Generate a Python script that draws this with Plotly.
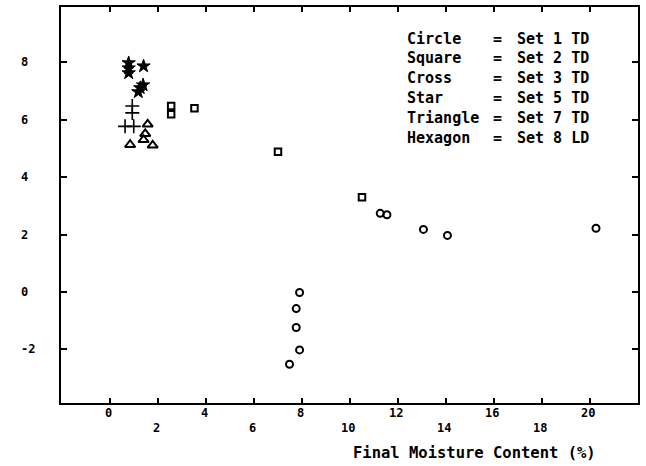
import plotly.graph_objects as go

# Set 1 TD (circles)
set1_x = [11.25, 11.53, 13.05, 14.05, 20.24, 7.89, 7.75, 7.75, 7.89, 7.47]
set1_y = [2.74, 2.69, 2.18, 1.97, 2.22, -0.02, -0.58, -1.24, -2.02, -2.52]
# Set 2 TD (squares)
set2_x = [2.54, 2.54, 3.51, 6.99, 10.49]
set2_y = [6.48, 6.19, 6.40, 4.89, 3.30]
# Set 3 TD (crosses)
set3_x = [0.92, 0.92, 0.62, 0.98]
set3_y = [6.48, 6.24, 5.77, 5.77]
# Set 5 TD (stars)
set5_x = [0.77, 0.77, 0.77, 1.39, 1.25, 1.37, 1.17]
set5_y = [7.98, 7.80, 7.63, 7.87, 7.11, 7.21, 6.97]
# Set 7 TD (triangles)
set7_x = [0.83, 1.56, 1.46, 1.39, 1.77]
set7_y = [5.13, 5.84, 5.51, 5.30, 5.11]

x_ticks = [0, 2, 4, 6, 8, 10, 12, 14, 16, 18, 20]
y_ticks = [-2, 0, 2, 4, 6, 8]
key_names = ["Circle", "Square", "Cross", "Star", "Triangle", "Hexagon"]
key_sets = ["Set 1 TD", "Set 2 TD", "Set 3 TD", "Set 5 TD", "Set 7 TD", "Set 8 LD"]

FONT = "DejaVu Sans Mono"
W, H = 646, 466
L, R, T, B = 61, 8, 5, 63
pw, ph = W - L - R, H - T - B


def px_x(p):
    return (p - L) / pw


def px_y(p):
    return (H - B - p) / ph


fig = go.Figure()

series = [
    (set1_x, set1_y, "circle-open", 7, 2, "Set 1 TD"),
    (set2_x, set2_y, "square-open", 6.5, 2, "Set 2 TD"),
    (set3_x, set3_y, "cross-thin-open", 10, 1.6, "Set 3 TD"),
    (set5_x, set5_y, "star", 10, 1, "Set 5 TD"),
    (set7_x, set7_y, "triangle-up-open", 9, 2, "Set 7 TD"),
]
for xs, ys, sym, size, lw, name in series:
    fig.add_trace(go.Scatter(
        x=xs, y=ys, mode="markers", name=name, showlegend=False,
        marker=dict(symbol=sym, size=size, color="black",
                    line=dict(color="black", width=lw)),
    ))

annotations = []
# staggered x tick labels
for i, v in enumerate(x_ticks):
    annotations.append(dict(
        x=v, xref="x", y=px_y(413 if i % 2 == 0 else 428), yref="paper",
        text=str(v), showarrow=False, xanchor="center", yanchor="middle",
        xshift=-2, font=dict(family=FONT, size=12, color="black", weight="bold"),
    ))
# left-aligned y tick labels
for v in y_ticks:
    annotations.append(dict(
        x=px_x(19), xref="paper", y=v, yref="y",
        text=str(v), showarrow=False, xanchor="left", yanchor="middle",
        font=dict(family=FONT, size=12, color="black", weight="bold"),
    ))
# text key
for i, (nm, st) in enumerate(zip(key_names, key_sets)):
    yy = px_y(36.7 + 20 * i)
    kf = dict(family=FONT, size=15, color="black", weight="bold")
    annotations.append(dict(x=px_x(405), xref="paper", y=yy, yref="paper", text=nm,
                            showarrow=False, xanchor="left", yanchor="middle", font=kf))
    annotations.append(dict(x=px_x(497), xref="paper", y=yy, yref="paper", text="=",
                            showarrow=False, xanchor="center", yanchor="middle", font=kf))
    annotations.append(dict(x=px_x(515), xref="paper", y=yy, yref="paper", text=st,
                            showarrow=False, xanchor="left", yanchor="middle", font=kf))
# axis title
annotations.append(dict(
    x=px_x(474), xref="paper", y=px_y(453), yref="paper",
    text="Final Moisture Content (%)", showarrow=False,
    xanchor="center", yanchor="middle",
    font=dict(family=FONT, size=15.5, color="black", weight="bold"),
))

fig.update_layout(
    width=W, height=H,
    margin=dict(l=L, r=R, t=T, b=B),
    paper_bgcolor="white", plot_bgcolor="white",
    annotations=annotations,
    xaxis=dict(range=[-2.05, 21.99], tickvals=x_ticks, showticklabels=False,
               ticks="inside", ticklen=5, tickwidth=2, tickcolor="black",
               showline=True, linewidth=2, linecolor="black", mirror="ticks",
               showgrid=False, zeroline=False),
    yaxis=dict(range=[-3.87, 9.93], tickvals=y_ticks, showticklabels=False,
               ticks="inside", ticklen=6, tickwidth=2, tickcolor="black",
               showline=True, linewidth=2, linecolor="black", mirror="ticks",
               showgrid=False, zeroline=False),
)

fig.write_html("out.html", config={"displayModeBar": False},
               post_script="document.body.style.margin='0';")
